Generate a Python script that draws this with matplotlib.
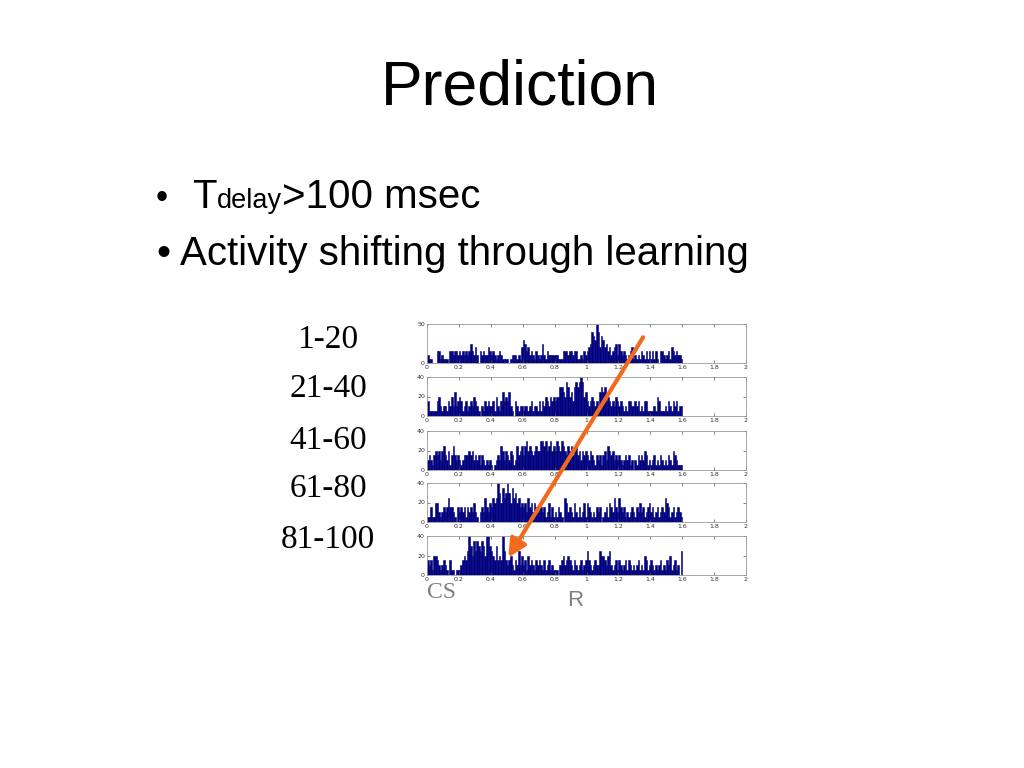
import matplotlib.pyplot as plt
import numpy as np
from matplotlib.patches import ConnectionPatch

# Texten van de dia
title = 'Prediction'
bullet2 = 'Activity shifting through learning'
trial_labels = ['1-20', '21-40', '41-60', '61-80', '81-100']

bin_width = 0.01
counts_1_20 = [
    10, 5, 5, 0, 0, 0, 15, 15, 5, 10,
    5, 5, 5, 0, 15, 15, 10, 15, 15, 10,
    15, 10, 15, 10, 15, 10, 15, 25, 15, 10,
    20, 10, 0, 15, 10, 15, 10, 10, 20, 15,
    10, 15, 10, 5, 10, 15, 10, 5, 5, 5,
    5, 0, 5, 10, 10, 10, 5, 10, 5, 20,
    30, 25, 15, 20, 10, 15, 10, 5, 15, 10,
    5, 10, 25, 10, 5, 15, 10, 10, 10, 10,
    10, 10, 5, 5, 5, 15, 15, 15, 10, 15,
    15, 10, 15, 15, 5, 5, 10, 5, 15, 10,
    15, 20, 25, 40, 35, 30, 50, 40, 20, 35,
    30, 20, 25, 15, 20, 10, 15, 20, 25, 10,
    25, 15, 10, 15, 10, 5, 10, 15, 20, 5,
    10, 5, 10, 5, 15, 10, 5, 15, 5, 15,
    5, 15, 5, 15, 5, 0, 15, 15, 10, 5,
    10, 15, 5, 20, 15, 10, 15, 10, 10, 5,
]
counts_21_40 = [
    15, 5, 5, 5, 5, 5, 15, 20, 10, 5,
    10, 10, 5, 15, 10, 20, 10, 25, 10, 15,
    20, 15, 5, 10, 15, 5, 10, 15, 10, 20,
    15, 10, 5, 0, 10, 5, 15, 10, 15, 10,
    10, 15, 5, 20, 10, 5, 15, 25, 15, 20,
    15, 25, 10, 5, 0, 15, 10, 5, 10, 10,
    5, 10, 10, 5, 10, 15, 5, 10, 10, 5,
    15, 5, 15, 10, 20, 15, 10, 20, 15, 20,
    15, 20, 20, 30, 30, 25, 20, 35, 30, 20,
    25, 15, 30, 35, 30, 35, 40, 35, 20, 25,
    15, 10, 15, 20, 15, 10, 15, 10, 25, 30,
    25, 30, 15, 20, 15, 10, 15, 10, 20, 15,
    10, 15, 10, 5, 10, 5, 15, 15, 10, 10,
    15, 10, 15, 5, 10, 5, 15, 15, 5, 5,
    5, 5, 10, 5, 20, 15, 5, 5, 5, 10,
    5, 15, 10, 5, 15, 10, 15, 5, 10, 10,
]
counts_41_60 = [
    10, 15, 10, 5, 15, 20, 15, 20, 10, 20,
    25, 15, 10, 20, 5, 15, 25, 15, 10, 15,
    10, 5, 10, 15, 15, 15, 20, 15, 20, 10,
    15, 10, 15, 5, 15, 10, 5, 10, 5, 10,
    5, 0, 5, 10, 15, 10, 25, 20, 10, 20,
    15, 10, 20, 15, 5, 10, 25, 15, 20, 25,
    15, 25, 30, 20, 25, 20, 15, 20, 25, 20,
    20, 30, 30, 25, 30, 20, 25, 30, 20, 25,
    20, 30, 25, 20, 30, 25, 20, 15, 25, 20,
    25, 15, 20, 25, 15, 20, 10, 20, 15, 20,
    15, 10, 20, 15, 10, 5, 15, 10, 15, 5,
    15, 20, 10, 25, 20, 15, 20, 10, 15, 10,
    15, 10, 5, 10, 15, 10, 15, 5, 10, 0,
    10, 5, 15, 10, 15, 10, 20, 15, 5, 10,
    5, 10, 15, 5, 10, 5, 15, 10, 5, 10,
    5, 15, 10, 5, 20, 15, 10, 5, 5, 5,
]
counts_61_80 = [
    5, 5, 15, 5, 5, 20, 20, 10, 5, 10,
    15, 10, 15, 25, 15, 15, 10, 5, 0, 15,
    10, 15, 10, 15, 5, 15, 10, 15, 10, 20,
    10, 5, 0, 10, 15, 10, 25, 15, 10, 20,
    15, 25, 20, 25, 40, 30, 20, 35, 25, 30,
    40, 30, 20, 35, 25, 30, 20, 25, 15, 20,
    15, 20, 10, 25, 15, 20, 10, 20, 15, 10,
    20, 15, 10, 15, 5, 10, 20, 5, 15, 5,
    10, 5, 15, 10, 5, 0, 25, 20, 10, 15,
    10, 5, 20, 10, 5, 15, 5, 10, 20, 5,
    20, 15, 10, 5, 10, 5, 15, 10, 15, 0,
    5, 10, 15, 5, 20, 15, 10, 25, 15, 10,
    25, 15, 10, 15, 5, 10, 5, 10, 15, 10,
    5, 15, 10, 20, 10, 15, 5, 10, 15, 20,
    10, 15, 5, 10, 15, 5, 10, 15, 10, 25,
    20, 15, 5, 10, 15, 5, 10, 15, 10, 5,
]
counts_81_100 = [
    15, 10, 15, 5, 20, 20, 15, 10, 5, 10,
    15, 10, 5, 0, 15, 5, 5, 0, 5, 5,
    5, 10, 15, 20, 15, 25, 40, 30, 20, 35,
    25, 35, 30, 25, 35, 30, 20, 40, 40, 30,
    25, 20, 15, 30, 15, 20, 15, 40, 25, 15,
    10, 15, 20, 10, 5, 15, 10, 25, 10, 20,
    10, 15, 5, 20, 10, 15, 10, 5, 15, 10,
    15, 10, 5, 15, 5, 10, 15, 5, 10, 5,
    5, 5, 0, 10, 15, 20, 10, 15, 20, 15,
    10, 5, 15, 10, 5, 10, 15, 5, 10, 15,
    25, 15, 10, 5, 10, 15, 10, 10, 25, 20,
    20, 15, 10, 20, 25, 10, 5, 10, 15, 5,
    15, 10, 5, 10, 15, 5, 15, 10, 5, 10,
    5, 10, 15, 5, 10, 5, 20, 15, 5, 10,
    15, 10, 5, 10, 5, 10, 15, 5, 10, 5,
    15, 10, 20, 5, 10, 15, 5, 10, 0, 25,
]
all_counts = [counts_1_20, counts_21_40, counts_41_60, counts_61_80, counts_81_100]
y_max = [50, 40, 40, 40, 40]
y_ticks = [[0, 50], [0, 20, 40], [0, 20, 40], [0, 20, 40], [0, 20, 40]]
x_ticks = [0, 0.2, 0.4, 0.6, 0.8, 1, 1.2, 1.4, 1.6, 1.8, 2]
x_ticklabels = ['0', '0.2', '0.4', '0.6', '0.8', '1', '1.2', '1.4', '1.6', '1.8', '2']

W, H = 1024, 768
fig = plt.figure(figsize=(W / 100, H / 100), dpi=100)
fig.patch.set_facecolor('white')

def fx(px):
    return px / W

def fy(py):
    return 1 - py / H

# Titel en opsommingstekens
fig.text(fx(520), fy(88), title, fontsize=45, family='Liberation Sans',
         ha='center', va='center', color='black')

fig.text(fx(156), fy(208), '\u2022', fontsize=25, family='Liberation Sans', va='baseline')
t1 = fig.text(fx(192), fy(208), 'T', fontsize=29, family='Liberation Sans', va='baseline')
fig.canvas.draw()
r = fig.canvas.get_renderer()
bb = t1.get_window_extent(r)
t2 = fig.text(bb.x1 / W, fy(208), 'delay', fontsize=19.5, family='Liberation Sans', va='baseline')
bb2 = t2.get_window_extent(r)
fig.text(bb2.x1 / W, fy(208), '>100 msec', fontsize=29, family='Liberation Sans', va='baseline')

fig.text(fx(157), fy(265), '\u2022 ' + bullet2, fontsize=29, family='Liberation Sans',
         va='baseline')

# Panelen
panel_tops = [324, 377, 431, 483, 536]
panel_h = 39
left_px, right_px = 427, 746
label_y = [340, 389, 441, 489, 540]
edges = np.arange(len(counts_1_20)) * bin_width

axes = []
for i, counts in enumerate(all_counts):
    top = panel_tops[i]
    ax = fig.add_axes((fx(left_px), fy(top + panel_h), (right_px - left_px) / W, panel_h / H))
    ax.bar(edges, counts, width=bin_width, align='edge', color='#00007f',
           edgecolor='#00007f', linewidth=0.4)
    ax.set_xlim(0, 2)
    ax.set_ylim(0, y_max[i])
    ax.set_xticks(x_ticks)
    ax.set_xticklabels(x_ticklabels)
    ax.set_yticks(y_ticks[i])
    ax.tick_params(direction='in', length=2.5, width=0.5, labelsize=4.5, pad=1.5,
                   top=True, right=True, colors='#555555', labelcolor='#333333')
    for s in ax.spines.values():
        s.set_linewidth(0.6)
        s.set_color('#999999')
    axes.append(ax)
    fig.text(fx(328), fy(label_y[i]), trial_labels[i], fontsize=24,
             family='Liberation Serif', ha='center', va='center')

# Pijl van de piek in blok 1 naar de piek in blok 5
arrow = ConnectionPatch(xyA=(1.355, 33), coordsA=axes[0].transData,
                        xyB=(0.51, 18), coordsB=axes[4].transData,
                        arrowstyle='-|>,head_length=0.9,head_width=0.45',
                        color='#f26b1d', linewidth=3, mutation_scale=12)
fig.add_artist(arrow)

fig.text(fx(427), fy(598), 'CS', fontsize=17, family='Liberation Serif',
         color='#808080', va='baseline')
fig.text(fx(567), fy(606), 'R', fontsize=16, family='Liberation Sans',
         color='#808080', va='baseline')

fig.savefig('out.png', dpi=100)
